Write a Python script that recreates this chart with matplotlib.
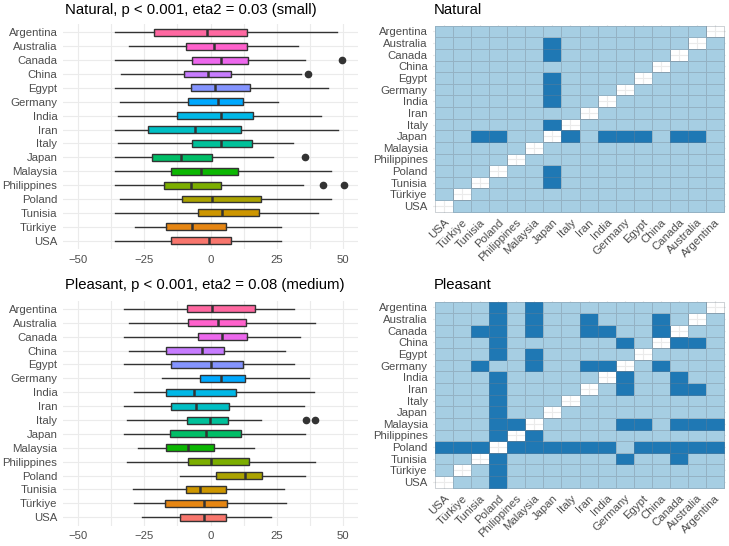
import numpy as np
import matplotlib
matplotlib.use('Agg')
import matplotlib.pyplot as plt
from matplotlib.colors import ListedColormap

plt.rcParams['font.family'] = ['Liberation Sans', 'DejaVu Sans']

# countries, bottom -> top on the y axes (and left -> right on heatmap x)
countries = ['USA', 'Türkiye', 'Tunisia', 'Poland', 'Philippines', 'Malaysia',
             'Japan', 'Italy', 'Iran', 'India', 'Germany', 'Egypt', 'China',
             'Canada', 'Australia', 'Argentina']

# Natural: box summaries (same order as countries)
nat_lo = [-35.9, -28.4, -35.9, -34.0, -35.9, -35.9, -35.9, -34.8, -35.9, -34.8, -34.0, -35.9, -33.8, -35.9, -30.7, -35.9]
nat_q1 = [-14.9, -16.8, -4.8, -10.8, -17.5, -14.7, -22.1, -6.9, -23.6, -12.6, -8.5, -7.2, -9.8, -6.8, -9.3, -21.1]
nat_med = [-0.5, -7.0, 4.3, 0.5, -7.3, -3.6, -11.2, 3.8, -5.9, 4.1, 2.8, 1.6, -1.1, 3.8, 1.3, -1.5]
nat_q3 = [7.9, 5.9, 18.1, 19.1, 3.8, 10.3, 0.6, 15.8, 11.6, 16.0, 12.1, 14.8, 7.9, 14.1, 13.9, 13.7]
nat_hi = [26.6, 26.6, 40.5, 45.5, 34.7, 45.5, 23.7, 31.0, 48.0, 41.7, 25.4, 44.2, 34.2, 35.4, 32.9, 47.6]
nat_out = {'Philippines': [42.3, 50.3], 'Japan': [35.6], 'China': [36.6], 'Canada': [49.4]}

# Pleasant: box summaries
pls_lo = [-25.8, -28.6, -29.3, -11.4, -31.4, -27.4, -32.5, -31.5, -32.5, -28.8, -18.3, -32.5, -30.5, -32.5, -30.5, -32.5]
pls_q1 = [-11.4, -17.2, -9.3, 2.1, -8.3, -16.8, -15.3, -8.9, -14.8, -16.7, -4.1, -14.8, -16.7, -4.8, -8.4, -9.0]
pls_med = [-2.4, -2.3, -3.9, 13.1, 0.3, -8.3, -1.8, -0.3, -5.5, -6.3, 4.1, 0.0, -3.3, 4.5, 2.9, 0.6]
pls_q3 = [5.8, 6.3, 6.0, 19.3, 14.6, 1.5, 11.3, 6.5, 6.9, 9.5, 12.9, 12.1, 5.0, 13.9, 13.2, 16.6]
pls_hi = [22.7, 28.4, 27.8, 35.4, 39.2, 16.2, 35.7, 19.1, 35.2, 38.9, 36.9, 31.4, 28.1, 33.8, 39.2, 31.4]
pls_out = {'Italy': [35.9, 39.2]}

# significant pairwise differences
nat_sig = [('Japan', c) for c in ['Tunisia', 'Poland', 'Italy', 'India', 'Germany',
                                  'Egypt', 'Canada', 'Australia']]
pls_sig = ([('Poland', c) for c in countries if c not in ('Poland', 'Germany')]
           + [('Malaysia', c) for c in ['Argentina', 'Australia', 'Canada', 'Egypt',
                                        'Germany', 'Philippines']]
           + [('Australia', 'Iran'), ('Australia', 'China'),
              ('Canada', 'Tunisia'), ('Canada', 'Iran'), ('Canada', 'India'),
              ('Canada', 'China'), ('China', 'Germany'),
              ('Germany', 'Tunisia'), ('Germany', 'Iran'), ('Germany', 'India')])


def hue_color(h, c=100, l=65):
    # ggplot2 default hue palette (HCL -> sRGB)
    hr = np.deg2rad(h)
    u, v = c * np.cos(hr), c * np.sin(hr)
    Xn, Yn, Zn = 95.047, 100.0, 108.883
    Y = Yn * ((l + 16) / 116) ** 3
    d = Xn + 15 * Yn + 3 * Zn
    up = u / (13 * l) + 4 * Xn / d
    vp = v / (13 * l) + 9 * Yn / d
    X = Y * 9 * up / (4 * vp)
    Z = Y * (12 - 3 * up - 20 * vp) / (4 * vp)
    M = np.array([[3.2404542, -1.5371385, -0.4985314],
                  [-0.9692660, 1.8760108, 0.0415560],
                  [0.0556434, -0.2040259, 1.0572252]])
    rgb = M @ np.array([X, Y, Z]) / 100
    rgb = np.where(rgb <= 0.0031308, 12.92 * rgb, 1.055 * np.abs(rgb) ** (1 / 2.4) - 0.055)
    return tuple(np.clip(rgb, 0, 1))


box_cols = [hue_color(15 + 22.5 * k) for k in range(len(countries))]
grid_col = '#EBEBEB'
tick_col = '#4D4D4D'
tick_size = 8.2


def boxpanel(ax, lo, q1, med, q3, hi, out):
    stats = []
    for i, c in enumerate(countries):
        stats.append(dict(whislo=lo[i], q1=q1[i], med=med[i], q3=q3[i],
                          whishi=hi[i], fliers=out.get(c, [])))
    b = ax.bxp(stats, positions=range(len(countries)), widths=0.5,
               orientation='horizontal', patch_artist=True,
               boxprops=dict(edgecolor='#333333', linewidth=1.0),
               whiskerprops=dict(color='#333333', linewidth=1.0),
               capprops=dict(linewidth=0),
               medianprops=dict(color='#333333', linewidth=1.8),
               flierprops=dict(marker='o', markerfacecolor='#333333',
                               markeredgecolor='#333333', markersize=4.5))
    for patch, col in zip(b['boxes'], box_cols):
        patch.set_facecolor(col)
    ax.set_xlim(-55.5, 55.5)
    ax.set_ylim(-0.6, len(countries) - 0.4)
    ax.set_xticks([-50, -25, 0, 25, 50])
    ax.set_xticklabels(['\u221250', '\u221225', '0', '25', '50'])
    ax.set_xticks([-37.5, -12.5, 12.5, 37.5], minor=True)
    ax.set_yticks(range(len(countries)))
    ax.set_yticklabels(countries)
    ax.grid(True, which='both', color=grid_col, linewidth=0.8)
    ax.set_axisbelow(True)
    ax.tick_params(which='both', length=0, labelsize=tick_size, colors=tick_col)
    ax.tick_params(axis='y', pad=4)
    ax.tick_params(axis='x', pad=4)
    for s in ax.spines.values():
        s.set_visible(False)


def heatpanel(ax, sig):
    n = len(countries)
    mat = np.zeros((n, n))
    for a, b in sig:
        i, j = countries.index(a), countries.index(b)
        mat[i, j] = 1
        mat[j, i] = 1
    np.fill_diagonal(mat, np.nan)
    mat = np.ma.masked_invalid(mat)
    edges = np.arange(n + 1) - 0.5
    ax.pcolormesh(edges, edges, mat, cmap=ListedColormap(['#A6CEE3', '#1F78B4']),
                  vmin=0, vmax=1, edgecolors=(0.45, 0.5, 0.55, 0.35),
                  linewidth=0.6, zorder=2)
    ax.set_xlim(-0.6, n - 0.4)
    ax.set_ylim(-0.6, n - 0.4)
    ax.set_xticks(range(n))
    ax.set_xticklabels(countries, rotation=45, ha='right', va='top',
                       rotation_mode='anchor')
    ax.set_yticks(range(n))
    ax.set_yticklabels(countries)
    ax.grid(True, color=grid_col, linewidth=0.8, zorder=0)
    ax.set_axisbelow(True)
    ax.tick_params(length=0, labelsize=tick_size, colors=tick_col)
    ax.tick_params(axis='y', pad=4)
    ax.tick_params(axis='x', pad=3)
    for s in ax.spines.values():
        s.set_visible(False)


fig = plt.figure(figsize=(7.29, 5.46), dpi=100)
W, H = 729, 546

ax1 = fig.add_axes([63 / W, 1 - 249 / H, 295 / W, 225 / H])
ax2 = fig.add_axes([433.2 / W, 1 - 212.9 / H, 292.6 / W, 188.4 / H])
ax3 = fig.add_axes([63 / W, 1 - 525.6 / H, 295 / W, 225 / H])
ax4 = fig.add_axes([433.2 / W, 1 - 488.9 / H, 292.6 / W, 188.4 / H])

boxpanel(ax1, nat_lo, nat_q1, nat_med, nat_q3, nat_hi, nat_out)
heatpanel(ax2, nat_sig)
boxpanel(ax3, pls_lo, pls_q1, pls_med, pls_q3, pls_hi, pls_out)
heatpanel(ax4, pls_sig)

tkw = dict(fontsize=10.7, color='black', va='center', ha='left')
fig.text(65 / W, 1 - 10 / H, 'Natural, p < 0.001, eta2 = 0.03 (small)', **tkw)
fig.text(434 / W, 1 - 10 / H, 'Natural', **tkw)
fig.text(65 / W, 1 - 285 / H, 'Pleasant, p < 0.001, eta2 = 0.08 (medium)', **tkw)
fig.text(434 / W, 1 - 285 / H, 'Pleasant', **tkw)

fig.savefig('out.png', dpi=100)
